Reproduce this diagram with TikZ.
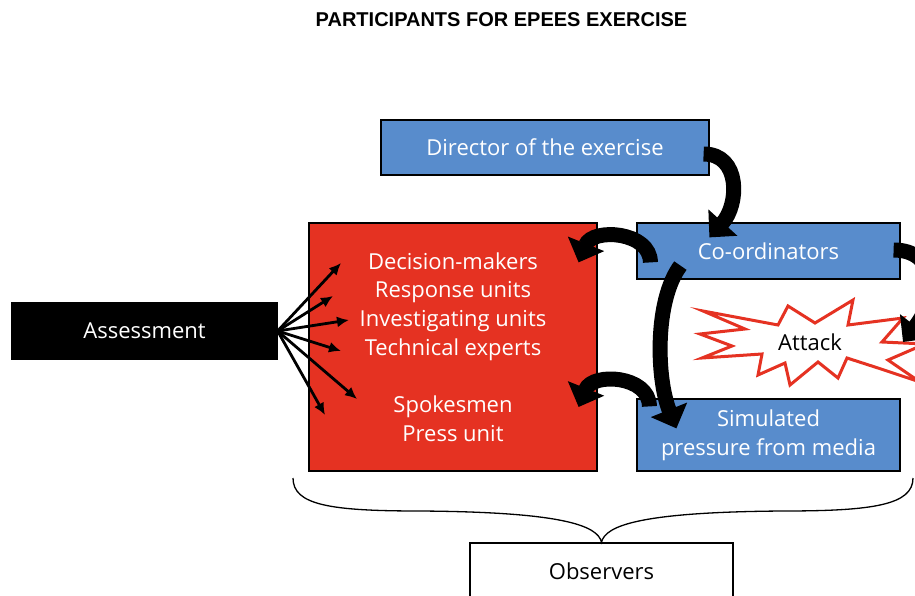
\documentclass[tikz,border=0pt]{standalone}
\usepackage{fontspec}
\setmainfont{Open Sans}
\newfontfamily\titlefont{Liberation Sans}
\usetikzlibrary{arrows.meta}
\definecolor{epblue}{RGB}{88,140,204}
\definecolor{epred}{RGB}{229,50,34}

\begin{document}
\begin{tikzpicture}[
            x=1pt, y=-1pt,
            every node/.style={inner sep=0pt, align=center, font=\fontsize{22}{28.7}\selectfont},
            bluebox/.style={draw, line width=1.2pt, fill=epblue, text=white, minimum width=263pt, minimum height=56pt},
            redbox/.style={draw, line width=1.2pt, fill=epred, text=white, minimum width=288pt, minimum height=248pt},
            darkbox/.style={draw, line width=1.2pt, fill=black, text=white, minimum width=265pt, minimum height=56pt},
            plainbox/.style={draw, line width=1.2pt, fill=white, minimum width=263pt, minimum height=56pt},
            burst/.style={draw=epred, line width=3pt, fill=white, line join=miter},
            bigarrow/.style={draw, line width=15pt, -{Triangle[length=20pt,width=38pt]}},
            thinarrow/.style={draw, line width=2.8pt, -{Latex[length=12pt,width=11pt]}}
            ]
            \clip (0,0) rectangle (915,596);
            % title
            \node[font=\titlefont\bfseries\fontsize{20}{24}\selectfont] (title) at (501.5,20) {PARTICIPANTS FOR EPEES EXERCISE};
            % boxes
            \node[bluebox, minimum width=328pt, minimum height=55pt] (director) at (545,147.5) {Director of the exercise};
            \node[bluebox] (coord) at (768.5,251) {Co-ordinators};
            \node[bluebox, minimum height=72pt] (media) at (768.5,435) {Simulated\\pressure from media};
            \node[redbox] (players) at (453,347) {Decision-makers\\Response units\\Investigating units\\Technical experts\\[28.7pt]Spokesmen\\Press unit};
            \node[darkbox] (assess) at (144.5,331) {Assessment};
            \node[plainbox] (observers) at (601.5,571) {Observers};
            % attack
            \draw[burst] (703,311) -- (778,325) -- (788,306) -- (815,323) -- (853,300) -- (848,325)
              -- (903,318) -- (882,342) -- (925,344) -- (888,360) -- (920,382) -- (878,368)
              -- (847,358) -- (838,378) -- (818,362) -- (790,385) -- (785,363) -- (758,375)
              -- (762,354) -- (702,358) -- (732,346) -- (700,334) -- (745,329) -- cycle;
            \node (attack) at (810,342) {Attack};
            % assessment arrows
            \coordinate (a1) at (341,263);
            \coordinate (a2) at (333,296);
            \coordinate (a3) at (349,320);
            \coordinate (a4) at (341,351);
            \coordinate (a5) at (357,399);
            \coordinate (a6) at (325,415);
            \draw[thinarrow] (assess.east) -- (a1);
            \draw[thinarrow] (assess.east) -- (a2);
            \draw[thinarrow] (assess.east) -- (a3);
            \draw[thinarrow] (assess.east) -- (a4);
            \draw[thinarrow] (assess.east) -- (a5);
            \draw[thinarrow] (assess.east) -- (a6);
            % curved arrows
            \draw[bigarrow] ([shift={(-6,6.5)}]director.east) .. controls +(37,0) and +(30,-33) .. ([shift={(73,15)}]coord.north west);
            \draw[bigarrow] ([shift={(14,40)}]coord.north west) .. controls +(0,-31) and +(14,-35) .. ([shift={(-19,40)}]players.north east);
            \draw[bigarrow] ([shift={(44,-14)}]coord.south west) .. controls +(-26,35) and +(-20,-50) .. ([shift={(40,30)}]media.north west);
            \draw[bigarrow] ([shift={(13,8)}]media.north west) .. controls +(0,-31) and +(14,-35) .. ([shift={(-19,60)}]players.east);
            \draw[bigarrow] ([shift={(-7,-1)}]coord.east) .. controls +(42,0) and +(37,-47) .. ([shift={(93,0)}]attack.center);
            % brace
            \coordinate (bl) at (293,478);
            \coordinate (br) at (913,478);
            \draw[line width=1.3pt] (bl) .. controls (293,505) and (330,511) .. (420,511)
              .. controls (560,512) and (598,525) .. (observers.north)
              .. controls (605,525) and (643,512) .. (783,511)
              .. controls (873,511) and (913,505) .. (br);
\end{tikzpicture}
\end{document}
